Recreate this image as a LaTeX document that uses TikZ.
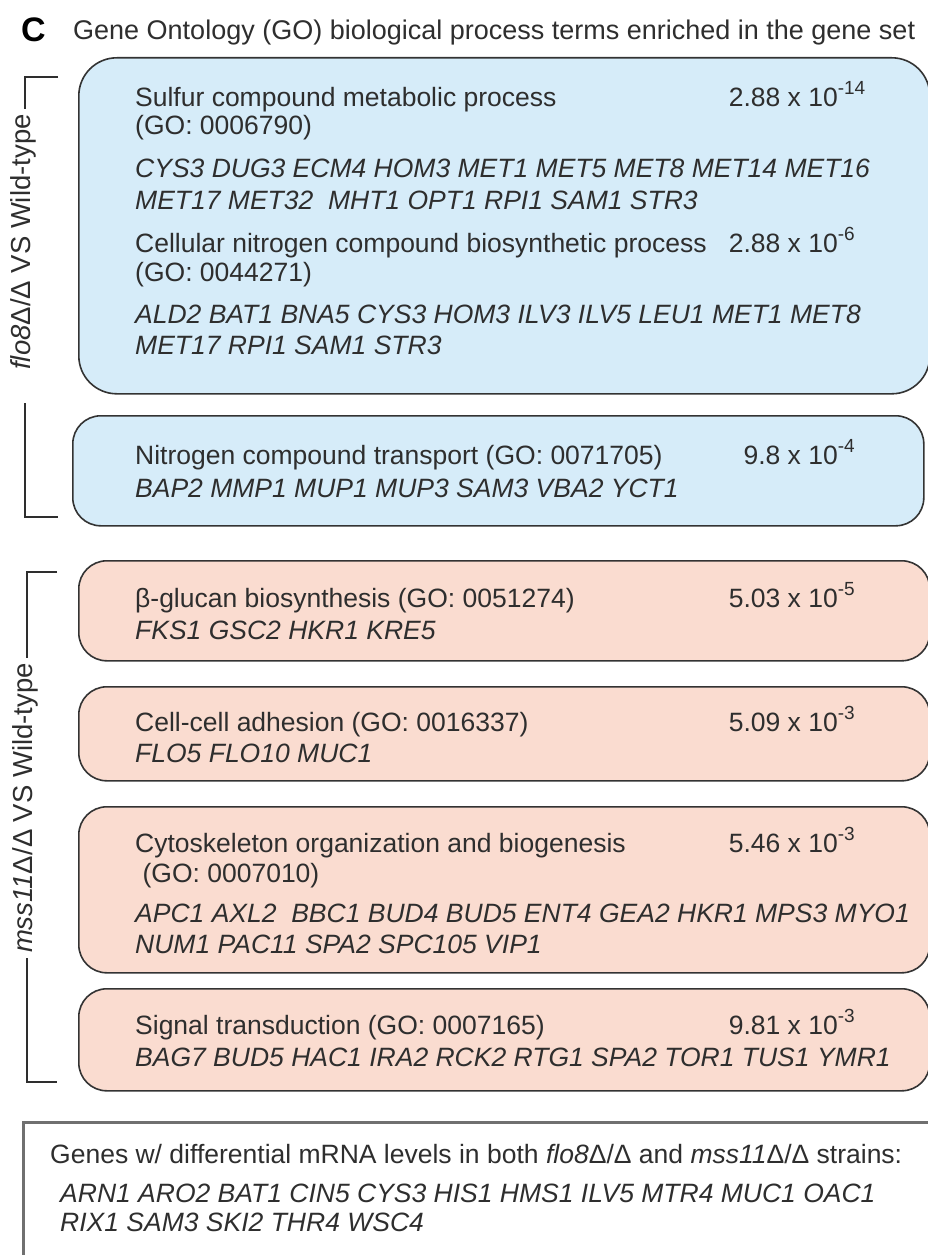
\documentclass[tikz,border=0pt]{standalone}
\usepackage{fontspec}
\setmainfont{Liberation Sans}
\usepackage{tikz}
\usepackage{xcolor}
\usetikzlibrary{positioning,calc}
\definecolor{ink}{HTML}{2E2E2E}
\definecolor{edge}{HTML}{333333}
\definecolor{blubg}{HTML}{D6ECF9}
\definecolor{pnkbg}{HTML}{FADCD0}
\definecolor{framegray}{HTML}{707070}
\newcommand{\pval}[2]{#1 x 10\rlap{\raisebox{0.45em}{\fontsize{19}{19}\selectfont #2}}}
\tikzset{
  bluecard/.style={
    draw=edge, fill=blubg, line width=1.6pt, rounded corners=30pt,
    anchor=north west, inner sep=0pt, minimum width=851pt
  },
  pinkcard/.style={
    draw=edge, fill=pnkbg, line width=1.6pt, rounded corners=28pt,
    anchor=north west, inner sep=0pt, minimum width=851pt
  },
  sharedcard/.style={
    draw=framegray, fill=white, line width=2.6pt,
    anchor=north west, inner sep=0pt
  },
  termtext/.style={
    anchor=base west, inner sep=0pt, text=ink,
    font=\fontsize{26.5}{30}\selectfont
  },
  genetext/.style={termtext, font=\fontsize{26.5}{30}\selectfont\itshape},
  pvaltext/.style={
    anchor=base east, inner sep=0pt, text=ink,
    font=\fontsize{26.5}{30}\selectfont
  },
  strainlabel/.style={
    rotate=90, inner sep=0pt, text=ink,
    font=\fontsize{27.5}{30}\selectfont
  },
  bracket/.style={draw=ink, line width=1.4pt}
}
\begin{document}
\begin{tikzpicture}[x=1pt,y=1pt]
\useasboundingbox (0,0) rectangle (927,-1255);
\fill[white] (0,0) rectangle (927,-1255);

% heading
\node[termtext, font=\fontsize{34}{34}\selectfont\bfseries, text=black] (panel) at (21,-42) {C};
\node[termtext, font=\fontsize{27}{30}\selectfont] (heading) at (73,-40)
  {Gene Ontology (GO) biological process terms enriched in the gene set};

% flo8 vs wild-type
\node[bluecard, minimum height=336pt, rounded corners=38pt] (sulfurbox) at (78,-57) {};
\node[termtext] (sulfurterm) at (135,-106) {Sulfur compound metabolic process};
\node[pvaltext] (sulfurp) at (838,-106) {\pval{2.88}{-14}};
\node[termtext] (sulfurgo) at (135,-134) {(GO: 0006790)};
\node[genetext] (sulfurgenesa) at (135,-177) {CYS3 DUG3 ECM4 HOM3 MET1 MET5 MET8 MET14 MET16};
\node[genetext] (sulfurgenesb) at (135,-209) {MET17 MET32 \ MHT1 OPT1 RPI1 SAM1 STR3};
\node[termtext] (nitroterm) at (135,-252) {Cellular nitrogen compound biosynthetic process};
\node[pvaltext] (nitrop) at (838,-252) {\pval{2.88}{-6}};
\node[termtext] (nitrogo) at (135,-281) {(GO: 0044271)};
\node[genetext] (nitrogenesa) at (135,-323) {ALD2 BAT1 BNA5 CYS3 HOM3 ILV3 ILV5 LEU1 MET1 MET8};
\node[genetext] (nitrogenesb) at (135,-354) {MET17 RPI1 SAM1 STR3};

\node[bluecard, minimum height=110pt, rounded corners=28pt] (transbox) at (72,-415) {};
\node[termtext] (transterm) at (135,-464) {Nitrogen compound transport (GO: 0071705)};
\node[pvaltext] (transp) at (838,-464) {\pval{9.8}{-4}};
\node[genetext] (transgenes) at (135,-497) {BAP2 MMP1 MUP1 MUP3 SAM3 VBA2 YCT1};

\coordinate (flotick) at (58,-77);
\coordinate (flocorner) at (25,-77);
\coordinate (floresume) at (25,-403);
\coordinate (flofoot) at (25,-517);
\coordinate (flofoottick) at (58,-517);
\node[strainlabel] (flolabel) at (23,-242) {\textit{flo8}Δ/Δ VS Wild-type};
\draw[bracket] (flotick) -- (flocorner) -- ([xshift=2pt,yshift=5pt]flolabel.east);
\draw[bracket] (floresume) -- (flofoot) -- (flofoottick);

% mss11 vs wild-type
\node[pinkcard, minimum height=100pt] (glucanbox) at (78,-560) {};
\node[termtext] (glucanterm) at (135,-607) {β-glucan biosynthesis (GO: 0051274)};
\node[pvaltext] (glucanp) at (838,-607) {\pval{5.03}{-5}};
\node[genetext] (glucangenes) at (135,-639) {FKS1 GSC2 HKR1 KRE5};

\node[pinkcard, minimum height=94pt] (adhesbox) at (78,-686) {};
\node[termtext] (adhesterm) at (135,-731) {Cell-cell adhesion (GO: 0016337)};
\node[pvaltext] (adhesp) at (838,-731) {\pval{5.09}{-3}};
\node[genetext] (adhesgenes) at (135,-762) {FLO5 FLO10 MUC1};

\node[pinkcard, minimum height=166pt] (cytobox) at (78,-806) {};
\node[termtext] (cytoterm) at (135,-852) {Cytoskeleton organization and biogenesis};
\node[pvaltext] (cytop) at (838,-852) {\pval{5.46}{-3}};
\node[termtext] (cytogo) at (135,-882) {\ (GO: 0007010)};
\node[genetext] (cytogenesa) at (135,-922) {APC1 AXL2 \ BBC1 BUD4 BUD5 ENT4 GEA2 HKR1 MPS3 MYO1};
\node[genetext] (cytogenesb) at (135,-953) {NUM1 PAC11 SPA2 SPC105 VIP1};

\node[pinkcard, minimum height=102pt] (signalbox) at (78,-988) {};
\node[termtext] (signalterm) at (135,-1034) {Signal transduction (GO: 0007165)};
\node[pvaltext] (signalp) at (838,-1034) {\pval{9.81}{-3}};
\node[genetext] (signalgenes) at (135,-1066) {BAG7 BUD5 HAC1 IRA2 RCK2 RTG1 SPA2 TOR1 TUS1 YMR1};

\coordinate (msstick) at (57,-572);
\coordinate (msscorner) at (27,-572);
\coordinate (mssfoot) at (27,-1082);
\coordinate (mssfoottick) at (57,-1082);
\node[strainlabel] (msslabel) at (25,-808) {\textit{mss11}Δ/Δ VS Wild-type};
\draw[bracket] (msstick) -- (msscorner) -- ([xshift=2pt,yshift=5pt]msslabel.east);
\draw[bracket] ([xshift=2pt,yshift=-5pt]msslabel.west) -- (mssfoot) -- (mssfoottick);

% genes shared by both strains
\node[sharedcard, minimum width=930pt, minimum height=160pt] (sharedbox) at (22,-1121) {};
\node[termtext] (sharedterm) at (50,-1163)
  {Genes w/ differential mRNA levels in both \textit{flo8}Δ/Δ and \textit{mss11}Δ/Δ strains:};
\node[genetext] (sharedgenesa) at (60,-1202) {ARN1 ARO2 BAT1 CIN5 CYS3 HIS1 HMS1 ILV5 MTR4 MUC1 OAC1};
\node[genetext] (sharedgenesb) at (60,-1231) {RIX1 SAM3 SKI2 THR4 WSC4};
\end{tikzpicture}
\end{document}
